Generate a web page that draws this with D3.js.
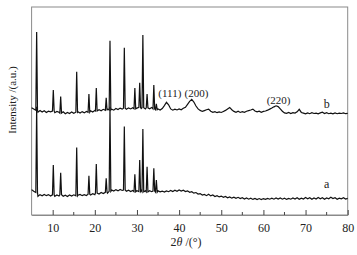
<!DOCTYPE html>
<html>
<head>
<meta charset="utf-8">
<script src="https://cdn.jsdelivr.net/npm/d3@7"></script>
<style>
  body { margin: 0; background: #fff; }
  svg text { font-family: "Liberation Serif", "Times New Roman", serif; fill: #222; }
</style>
</head>
<body>
<div id="chart"></div>
<script>
// XRD patterns, 2theta from 5 to 80 deg, baseline sampled every 0.5 deg
var thetaStart = 5, thetaStep = 0.5;

var aBase = [12.2, 11.4, 10.8, 9.0, 9.8, 9.2, 9.9, 9.3, 9.8, 9.1,
  9.7, 9.0, 9.6, 9.1, 9.7, 9.0, 9.5, 8.9, 9.6, 9.1,
  9.7, 9.2, 9.5, 9.9, 9.3, 9.8, 9.4, 10.0, 9.6, 10.2,
  9.8, 10.5, 10.1, 10.8, 10.3, 10.9, 10.5, 11.4, 12.0, 11.5,
  12.2, 11.6, 12.3, 11.8, 12.0, 11.4, 11.9, 11.3, 11.8, 11.2,
  11.7, 11.3, 11.8, 11.2, 11.6, 11.1, 11.7, 11.2, 11.5, 11.0,
  11.6, 11.1, 11.5, 11.0, 11.6, 11.2, 11.8, 11.3, 11.9, 11.4,
  12.0, 11.5, 11.9, 11.3, 11.6, 10.9, 11.2, 10.5, 10.8, 10.1,
  10.3, 9.6, 9.9, 9.3, 10.0, 9.2, 9.6, 8.9, 9.3, 8.7,
  9.1, 8.5, 8.9, 8.3, 8.7, 8.1, 8.6, 8.0, 8.5, 7.9,
  8.3, 7.7, 8.2, 7.6, 8.1, 7.5, 8.0, 7.4, 7.9, 7.4,
  7.9, 7.5, 8.0, 7.6, 8.1, 7.6, 8.2, 7.7, 8.2, 7.6,
  8.1, 7.5, 8.0, 7.6, 8.2, 7.7, 8.3, 7.6, 8.1, 7.7,
  8.4, 7.8, 8.3, 7.6, 8.2, 7.7, 8.4, 7.8, 8.3, 7.6,
  8.2, 7.8, 8.5, 7.9, 8.3, 7.6, 8.1, 7.8, 8.3, 7.7, 8.0];

var bBase = [11.6, 11.0, 10.4, 9.4, 10.2, 9.5, 10.1, 9.3, 9.9, 9.6,
  10.0, 9.2, 9.8, 9.4, 9.0, 9.6, 8.7, 9.3, 8.8, 9.5,
  8.9, 9.4, 9.6, 9.0, 9.7, 9.1, 9.8, 9.4, 10.1, 9.5,
  10.2, 10.0, 10.6, 10.1, 10.8, 10.3, 11.0, 10.5, 10.9, 10.4,
  11.2, 10.7, 11.4, 10.9, 11.3, 10.8, 11.5, 11.0, 11.6, 11.1,
  11.4, 11.8, 11.2, 11.6, 11.0, 11.5, 11.1, 11.7, 11.0, 10.6,
  11.0, 10.5, 11.2, 12.6, 14.2, 13.0, 11.0, 10.4, 10.9, 10.5,
  11.0, 10.6, 11.3, 11.8, 13.2, 14.6, 15.6, 14.3, 12.4, 11.0,
  10.3, 9.8, 10.2, 10.6, 10.9, 9.9, 9.4, 9.7, 9.2, 9.6,
  9.3, 9.8, 10.3, 11.0, 11.7, 10.6, 9.8, 9.4, 9.9, 9.3,
  9.7, 9.4, 9.9, 10.2, 10.5, 10.9, 10.0, 9.6, 9.9, 9.4,
  9.8, 10.0, 10.4, 10.9, 11.4, 12.0, 12.5, 12.1, 11.0, 9.9,
  9.1, 8.9, 9.3, 8.8, 9.2, 9.0, 9.6, 10.8, 9.3, 9.0,
  8.6, 9.1, 8.7, 9.2, 8.8, 9.0, 8.6, 9.1, 9.4, 8.8,
  9.2, 8.7, 9.0, 8.6, 9.1, 8.7, 9.0, 8.8, 9.1, 8.7, 8.9];

// sharp reflections (same positions in both samples)
var peakPos  = [6.2, 10.15, 11.9, 15.7, 18.6, 20.35, 22.7, 23.6, 27.0, 29.5, 30.65, 31.4, 32.4, 34.0, 34.6];
var aPeakTop = [52, 24.0, 20.3, 32.5, 18.9, 24.5, 17.6, 52, 42.5, 19.6, 26.4, 41.3, 23.2, 22.5, 16.8];
var bPeakTop = [48.0, 20.1, 16.9, 28.9, 18.2, 21.1, 16.3, 43.8, 40.4, 21.1, 23.6, 46.5, 18.2, 22.5, 13.5];

var bOffset = 40;

var xTicks = [10, 20, 30, 40, 50, 60, 70, 80];
var xMinorTicks = [15, 25, 35, 45, 55, 65, 75];

var hklLabels = ["(111)", "(200)", "(220)"];
var hklTheta = [37.8, 44.1, 63.6];
var hklInt = [16.7, 16.7, 13.4];

var width = 357, height = 255;
var svg = d3.select("#chart").append("svg")
  .attr("width", width).attr("height", height);

var x = d3.scaleLinear().domain([5, 80]).range([31.6, 347.7]);
var y = d3.scaleLinear().domain([0, 100]).range([215, 7]);

var halfWidth = 0.2;

function buildSeries(base, tops, offset) {
  var pts = [];
  base.forEach(function (v, i) {
    var t = thetaStart + i * thetaStep;
    var inside = peakPos.some(function (p) { return Math.abs(t - p) <= halfWidth; });
    if (!inside) pts.push([t, v + offset]);
  });
  peakPos.forEach(function (p, k) {
    var foot = base[Math.round((p - thetaStart) / thetaStep)];
    pts.push([p - halfWidth, foot + offset]);
    pts.push([p, tops[k] + offset]);
    pts.push([p + halfWidth, foot + offset]);
  });
  pts.sort(function (a, b) { return a[0] - b[0]; });
  return pts;
}

var line = d3.line()
  .x(function (d) { return x(d[0]); })
  .y(function (d) { return y(d[1]); });

// frame
svg.append("rect")
  .attr("x", x(5)).attr("y", y(100))
  .attr("width", x(80) - x(5)).attr("height", y(0) - y(100))
  .attr("fill", "none").attr("stroke", "#8a8a8a").attr("stroke-width", 1);

var plot = svg.append("g");
plot.append("path").datum(buildSeries(aBase, aPeakTop, 0))
  .attr("d", line).attr("fill", "none").attr("stroke", "#111").attr("stroke-width", 1.2);
plot.append("path").datum(buildSeries(bBase, bPeakTop, bOffset))
  .attr("d", line).attr("fill", "none").attr("stroke", "#111").attr("stroke-width", 1.2);

// bottom axis, ticks pointing in
var xAxis = d3.axisBottom(x).tickValues(xTicks).tickSizeInner(-5).tickSizeOuter(0).tickPadding(8);
var gx = svg.append("g").attr("transform", "translate(0," + y(0) + ")").call(xAxis);
gx.select(".domain").attr("stroke", "#8a8a8a");
gx.selectAll(".tick line").attr("stroke", "#444");
gx.selectAll("text").attr("font-size", 12).attr("font-family", "Liberation Serif").attr("fill", "#222");

svg.append("g").selectAll("line").data(xMinorTicks).enter().append("line")
  .attr("x1", function (d) { return x(d); }).attr("x2", function (d) { return x(d); })
  .attr("y1", y(0)).attr("y2", y(0) - 3)
  .attr("stroke", "#444");

// axis titles
var xt = svg.append("text").attr("x", 186).attr("y", 246)
  .attr("text-anchor", "middle").attr("font-size", 12);
xt.append("tspan").text("2");
xt.append("tspan").attr("font-style", "italic").text("θ");
xt.append("tspan").text(" /(°)");

svg.append("text")
  .attr("transform", "translate(16,100) rotate(-90)")
  .attr("text-anchor", "middle").attr("font-size", 11)
  .text("Intensity /(a.u.)");

// reflection labels
svg.append("g").selectAll("text").data(hklLabels).enter().append("text")
  .attr("x", function (d, i) { return x(hklTheta[i]); })
  .attr("y", function (d, i) { return y(hklInt[i] + bOffset); })
  .attr("text-anchor", "middle").attr("font-size", 11)
  .text(function (d) { return d; });

// sample labels
svg.append("text").attr("x", x(75)).attr("y", y(bBase[140] + bOffset) - 5)
  .attr("text-anchor", "middle").attr("font-size", 12).text("b");
svg.append("text").attr("x", x(75)).attr("y", y(aBase[140]) - 10)
  .attr("text-anchor", "middle").attr("font-size", 12).text("a");
</script>
</body>
</html>
